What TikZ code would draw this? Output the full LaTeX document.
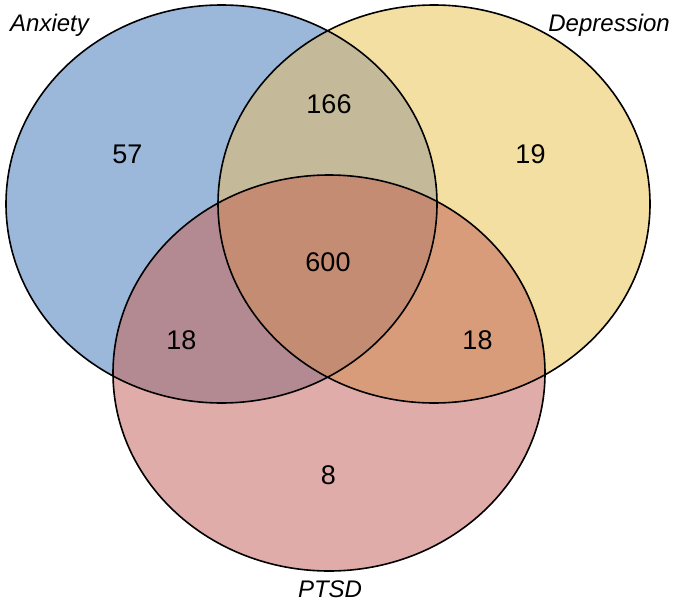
\documentclass[tikz,border=0pt]{standalone}
\usepackage{fontspec}
\setmainfont{Liberation Sans}
\definecolor{anxblue}{HTML}{9BB8DB}
\definecolor{depyellow}{HTML}{F3DFA2}
\definecolor{ptsdpink}{HTML}{E0ACAA}
\definecolor{anxdep}{HTML}{C4BA9A}
\definecolor{anxptsd}{HTML}{B38A91}
\definecolor{depptsd}{HTML}{D99C7B}
\definecolor{allthree}{HTML}{C48C72}
\begin{document}
\begin{tikzpicture}[x=1pt, y=-1pt,
    count/.style={inner sep=0pt, font=\fontsize{27}{30}\selectfont},
    setname/.style={inner sep=0pt, font=\fontsize{24}{26}\selectfont\itshape}]
    \useasboundingbox (0, 0) rectangle (677, 602);
    \def\anxset{(221.5, 204) ellipse [x radius=215.5, y radius=199]}
    \def\depset{(434, 204) ellipse [x radius=216, y radius=199]}
    \def\ptsdset{(329, 373) ellipse [x radius=216, y radius=198]}
    % single sets
    \fill[anxblue] \anxset;
    \fill[depyellow] \depset;
    \fill[ptsdpink] \ptsdset;
    % overlaps
    \begin{scope}
      \clip \anxset;
      \fill[anxdep] \depset;
      \fill[anxptsd] \ptsdset;
    \end{scope}
    \begin{scope}
      \clip \depset;
      \fill[depptsd] \ptsdset;
    \end{scope}
    \begin{scope}
      \clip \anxset;
      \clip \depset;
      \fill[allthree] \ptsdset;
    \end{scope}
    \draw[line width=1.6pt] \anxset \depset \ptsdset;
    % set names
    \node[setname, anchor=base west] (anxiety) at (10, 32) {Anxiety};
    \node[setname, anchor=base east] (depression) at (670, 32) {Depression};
    \node[setname, anchor=base] (ptsd) at (330, 597) {PTSD};
    % counts
    \node[count] (nA) at (127.5, 154.5) {57};
    \node[count] (nD) at (530.5, 154.5) {19};
    \node[count] (nAD) at (329, 104) {166};
    \node[count] (nADP) at (328, 262.5) {600};
    \node[count] (nAP) at (181.5, 340.5) {18};
    \node[count] (nDP) at (477.5, 340.5) {18};
    \node[count] (nP) at (328.5, 475.5) {8};
  \end{tikzpicture}
\end{document}
